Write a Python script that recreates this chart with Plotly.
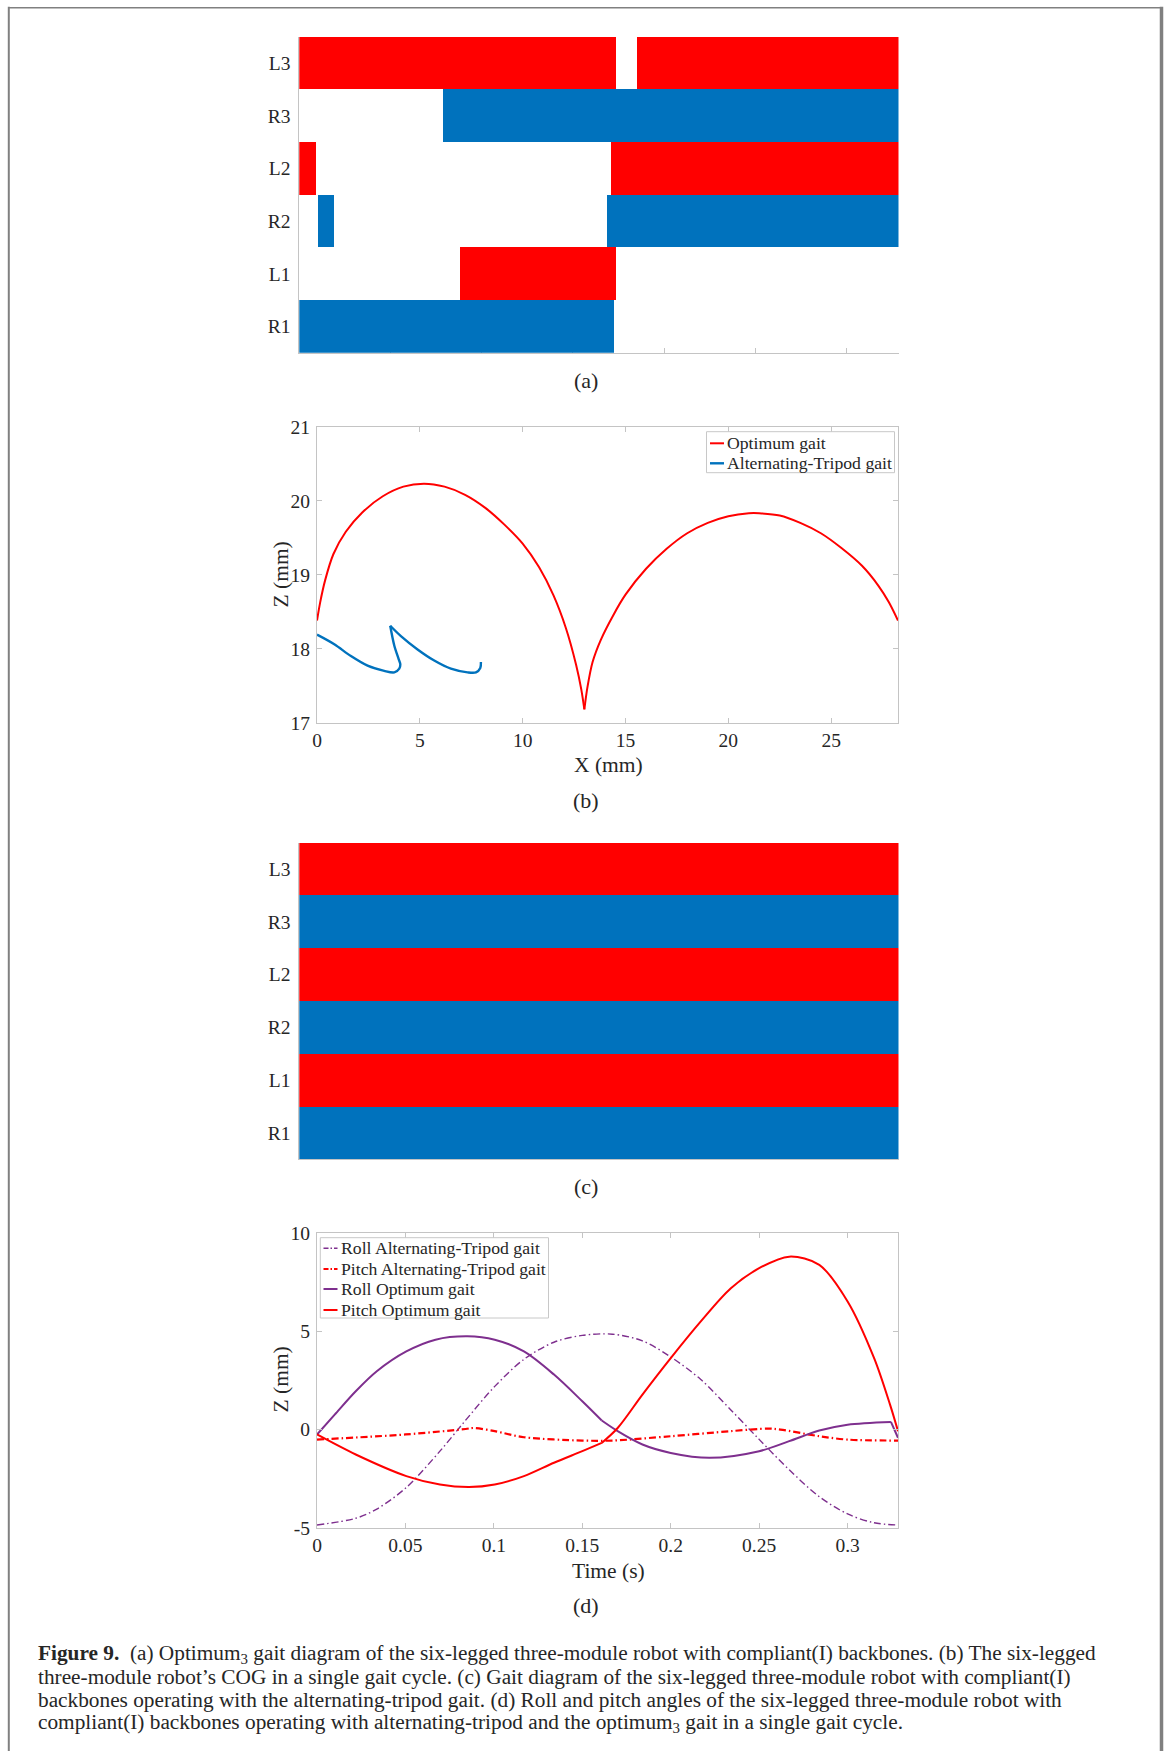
import plotly.graph_objects as go

W, H = 1167, 1751

# ---------------- data ----------------
T_CYCLE = 0.3285
legs = ["R1", "L1", "R2", "L2", "R3", "L3"]          # bottom -> top

# (a) optimum_3 gait diagram: stance intervals (s)
a_leg   = ["L3", "L3", "R3", "L2", "L2", "R2", "R2", "L1", "R1"]
a_start = [0.0, 0.1850, 0.0789, 0.0, 0.1707, 0.0101, 0.1689, 0.0881, 0.0]
a_end   = [0.1736, 0.3285, 0.3285, 0.0092, 0.3285, 0.0192, 0.3285, 0.1736, 0.1727]

# (c) alternating-tripod gait diagram
c_leg   = ["L3", "R3", "L2", "R2", "L1", "R1"]
c_start = [0.0, 0.0, 0.0, 0.0, 0.0, 0.0]
c_end   = [0.3285, 0.3285, 0.3285, 0.3285, 0.3285, 0.3285]

# (b) COG trajectory
opt_x = [0.0, 0.15, 0.4, 0.8, 1.4, 2.2, 3.2, 4.2, 5.2, 6.2, 7.2, 8.2, 9.1, 10.0,
         10.8, 11.5, 12.1, 12.6, 12.85, 13.0,
         13.15, 13.4, 13.8, 14.4, 15.0, 16.0, 17.0, 18.0, 19.0, 20.0, 21.0, 21.5,
         22.5, 23.5, 24.5, 25.5, 26.5, 27.3, 27.8, 28.25]
opt_z = [18.38, 18.62, 18.93, 19.28, 19.58, 19.84, 20.06, 20.19, 20.23, 20.19, 20.08, 19.90, 19.68, 19.42,
         19.10, 18.72, 18.28, 17.78, 17.45, 17.18,
         17.48, 17.82, 18.12, 18.45, 18.73, 19.08, 19.35, 19.56, 19.70, 19.79, 19.83, 19.83,
         19.80, 19.70, 19.56, 19.36, 19.12, 18.85, 18.63, 18.38]
opt_breaks = [19]

alt_x = [0.0, 0.84, 1.65, 2.46, 3.27, 3.76, 4.0, 4.05, 3.97, 3.76, 3.56,
         4.08, 4.89, 5.7, 6.51, 7.32, 7.73, 7.94, 7.97]
alt_z = [18.19, 18.06, 17.90, 17.77, 17.70, 17.68, 17.73, 17.79, 17.86, 18.04, 18.31,
         18.17, 17.99, 17.84, 17.73, 17.68, 17.68, 17.74, 17.82]
alt_breaks = [10]

# (d) roll / pitch angles
roll_alt_t = [0.0, 0.0219, 0.0338, 0.0505, 0.0695, 0.0838, 0.1005, 0.117, 0.134, 0.150, 0.167,
              0.184, 0.2, 0.217, 0.234, 0.25, 0.267, 0.284, 0.30, 0.315, 0.3285]
roll_alt_v = [-4.86, -4.52, -4.05, -2.95, -1.10, 0.45, 2.20, 3.58, 4.45, 4.80, 4.86,
              4.52, 3.70, 2.55, 1.00, -0.50, -2.05, -3.42, -4.30, -4.75, -4.86]

pitch_alt_t = [0.0, 0.05, 0.084, 0.0886, 0.1005, 0.117, 0.15, 0.167, 0.2, 0.234, 0.255, 0.262,
               0.284, 0.30, 0.3285]
pitch_alt_v = [-0.51, -0.25, 0.03, 0.08, -0.08, -0.39, -0.56, -0.56, -0.34, -0.08, 0.05, 0.0,
               -0.34, -0.51, -0.56]

roll_opt_t = [0.0, 0.01, 0.0219, 0.0338, 0.0505, 0.067, 0.085, 0.1005, 0.117, 0.134, 0.150, 0.161,
              0.170, 0.184, 0.2, 0.222, 0.25, 0.267, 0.284, 0.30, 0.3245, 0.3285]
roll_opt_v = [-0.25, 0.76, 1.95, 2.97, 3.98, 4.58, 4.75, 4.58, 3.98, 2.80, 1.44, 0.46,
              -0.08, -0.76, -1.19, -1.44, -1.10, -0.59, -0.05, 0.25, 0.39, -0.42]
roll_opt_breaks = [11, 20]

pitch_opt_t = [0.0, 0.0219, 0.0505, 0.0695, 0.086, 0.1005, 0.117, 0.134, 0.150, 0.161,
               0.170, 0.184, 0.2, 0.217, 0.234, 0.25, 0.267, 0.284, 0.30, 0.315, 0.324, 0.3285]
pitch_opt_v = [-0.25, -1.27, -2.37, -2.80, -2.93, -2.80, -2.37, -1.69, -1.10, -0.68,
               0.08, 1.78, 3.64, 5.51, 7.20, 8.22, 8.81, 8.39, 6.53, 3.64, 1.27, -0.08]
pitch_opt_breaks = [9]

b_xticks = [0, 5, 10, 15, 20, 25]
b_yticks = [17, 18, 19, 20, 21]
d_xticks = [0, 0.05, 0.1, 0.15, 0.2, 0.25, 0.3]
d_xtext = ["0", "0.05", "0.1", "0.15", "0.2", "0.25", "0.3"]
d_yticks = [-5, 0, 5, 10]
d_ytext = ["-5", "0", "5", "10"]

# ---------------- style ----------------
RED = "#FF0000"
BLUE = "#0072BD"
PURPLE = "#7E2F8E"
AX = "#c4c4c4"
TXT = "#262626"
FONT = "Liberation Serif"


def px(x):
    return x / W


def py(y):
    return 1 - y / H


fig = go.Figure()

# (a) bars
for lg, s, e in zip(a_leg, a_start, a_end):
    fig.add_trace(go.Bar(y=[lg], x=[e - s], base=[s], orientation="h", width=1.0,
                         marker=dict(color=RED if lg.startswith("L") else BLUE, line=dict(width=0)),
                         xaxis="x", yaxis="y", showlegend=False, hoverinfo="skip"))
# (c) bars
for lg, s, e in zip(c_leg, c_start, c_end):
    fig.add_trace(go.Bar(y=[lg], x=[e - s], base=[s], orientation="h", width=1.0,
                         marker=dict(color=RED if lg.startswith("L") else BLUE, line=dict(width=0)),
                         xaxis="x3", yaxis="y3", showlegend=False, hoverinfo="skip"))


def add_curve(xs, ys, breaks, xa, ya, color, width, dash="solid"):
    idx = [0] + breaks + [len(xs) - 1]
    for a, b in zip(idx[:-1], idx[1:]):
        fig.add_trace(go.Scatter(x=xs[a:b + 1], y=ys[a:b + 1], mode="lines",
                                 line=dict(color=color, width=width, dash=dash,
                                           shape="spline", smoothing=0.9),
                                 xaxis=xa, yaxis=ya, showlegend=False, hoverinfo="skip"))


add_curve(opt_x, opt_z, opt_breaks, "x2", "y2", RED, 2.0)
add_curve(alt_x, alt_z, alt_breaks, "x2", "y2", BLUE, 2.4)

DASHDOT = "7px,3px,1.5px,3px"
add_curve(roll_alt_t, roll_alt_v, [], "x4", "y4", PURPLE, 1.4, DASHDOT)
add_curve(pitch_alt_t, pitch_alt_v, [], "x4", "y4", RED, 2.2, DASHDOT)
add_curve(roll_opt_t, roll_opt_v, roll_opt_breaks, "x4", "y4", PURPLE, 2.0)
add_curve(pitch_opt_t, pitch_opt_v, pitch_opt_breaks, "x4", "y4", RED, 2.0)

common_ax = dict(showgrid=False, zeroline=False, linecolor=AX, linewidth=1, tickcolor=AX,
                 tickfont=dict(family=FONT, size=19.5, color=TXT), automargin=False)

gait_x = dict(common_ax, range=[0, T_CYCLE], tickvals=d_xticks, ticks="inside", ticklen=5,
              showticklabels=False, showline=True, mirror=False, layer="below traces")
gait_y = dict(common_ax, type="category", categoryorder="array", categoryarray=legs,
              range=[-0.5, 5.5], ticks="", showline=True, mirror=False, layer="below traces",
              ticklabelstandoff=4)

fig.update_layout(
    width=W, height=H, autosize=False,
    margin=dict(l=0, r=0, t=0, b=0, pad=0),
    paper_bgcolor="white", plot_bgcolor="white",
    barmode="overlay", bargap=0, showlegend=False,
    font=dict(family=FONT, color=TXT, size=19),
    xaxis=dict(gait_x, domain=[px(299.3), px(898.5)], anchor="y"),
    yaxis=dict(gait_y, domain=[py(352.7), py(36.7)], anchor="x"),
    xaxis3=dict(gait_x, domain=[px(299.3), px(898.5)], anchor="y3"),
    yaxis3=dict(gait_y, domain=[py(1159.3), py(842.7)], anchor="x3"),
    xaxis2=dict(common_ax, domain=[px(317), px(898)], anchor="y2", range=[0, 28.25],
                tickvals=b_xticks, ticks="inside", ticklen=5, showline=True, mirror="allticks",
                ticklabelstandoff=0),
    yaxis2=dict(common_ax, domain=[py(722.7), py(426.7)], anchor="x2", range=[17, 21],
                tickvals=b_yticks, ticks="inside", ticklen=5, showline=True, mirror="allticks",
                ticklabelstandoff=2),
    xaxis4=dict(common_ax, domain=[px(317), px(898)], anchor="y4", range=[0, T_CYCLE],
                tickvals=d_xticks, ticktext=d_xtext, ticks="inside", ticklen=5, showline=True,
                mirror="allticks", ticklabelstandoff=0),
    yaxis4=dict(common_ax, domain=[py(1527.7), py(1233.3)], anchor="x4", range=[-5, 10],
                tickvals=d_yticks, ticktext=d_ytext, ticks="inside", ticklen=5, showline=True,
                mirror="allticks", ticklabelstandoff=2),
)

ann = []
shapes = []


def text(x, y, s, size, xanchor="center", yanchor="middle", angle=0):
    ann.append(dict(x=px(x), y=py(y), xref="paper", yref="paper", text=s, showarrow=False,
                    xanchor=xanchor, yanchor=yanchor, textangle=angle,
                    font=dict(family=FONT, size=size, color=TXT)))


# sub-captions
for lab, yy in [("(a)", 380), ("(b)", 800), ("(c)", 1186), ("(d)", 1605)]:
    text(586, yy, lab, 22)

# axis titles
text(608, 765, "X (mm)", 21.5)
text(280.5, 575, "Z (mm)", 21.5, angle=-90)
text(608, 1571, "Time (s)", 21.5)
text(280.5, 1380, "Z (mm)", 21.5, angle=-90)


def legend_box(x0, y0, x1, y1):
    shapes.append(dict(type="rect", xref="paper", yref="paper", x0=px(x0), x1=px(x1),
                       y0=py(y1), y1=py(y0), line=dict(color="#c8c8c8", width=1),
                       fillcolor="white", layer="above"))


def legend_item(x, y, label, color, width, dash="solid"):
    shapes.append(dict(type="line", xref="paper", yref="paper", x0=px(x), x1=px(x + 14),
                       y0=py(y), y1=py(y), line=dict(color=color, width=width, dash=dash),
                       layer="above"))
    text(x + 15, y, label, 17.7, xanchor="left")


legend_box(706.5, 431.7, 894.5, 472.7)
legend_item(710, 443.3, "Optimum gait", RED, 2.0)
legend_item(710, 463.3, "Alternating-Tripod gait", BLUE, 2.4)

legend_box(320.3, 1237.7, 548.5, 1318)
legend_item(323.5, 1248.3, "Roll Alternating-Tripod gait", PURPLE, 1.4, "5px,2px,1.5px,2px")
legend_item(323.5, 1269, "Pitch Alternating-Tripod gait", RED, 2.2, "5px,2px,1.5px,2px")
legend_item(323.5, 1289, "Roll Optimum gait", PURPLE, 2.0)
legend_item(323.5, 1310, "Pitch Optimum gait", RED, 2.0)

# figure caption
cap = [
    "<b>Figure 9.</b>  (a) Optimum<sub>3</sub> gait diagram of the six-legged three-module robot with compliant(I) backbones. (b) The six-legged",
    "three-module robot’s COG in a single gait cycle. (c) Gait diagram of the six-legged three-module robot with compliant(I)",
    "backbones operating with the alternating-tripod gait. (d) Roll and pitch angles of the six-legged three-module robot with",
    "compliant(I) backbones operating with alternating-tripod and the optimum<sub>3</sub> gait in a single gait cycle.",
]
for i, line in enumerate(cap):
    text(36, 1654 + i * 23, line, 21.3, xanchor="left")

# outer frame (open at the bottom)
FR = "#808080"
shapes.append(dict(type="line", xref="paper", yref="paper", x0=px(8.8), x1=px(8.8),
                   y0=0, y1=py(6.8), line=dict(color=FR, width=2)))
shapes.append(dict(type="line", xref="paper", yref="paper", x0=px(8), x1=px(1163),
                   y0=py(7.8), y1=py(7.8), line=dict(color=FR, width=1.5)))
shapes.append(dict(type="line", xref="paper", yref="paper", x0=px(1161.5), x1=px(1161.5),
                   y0=0, y1=py(6.8), line=dict(color=FR, width=3.5)))

fig.update_layout(annotations=ann, shapes=shapes)
fig.write_html("out.html", config={"displayModeBar": False, "staticPlot": True},
               post_script="document.body.style.margin='0px';document.body.style.overflow='hidden';")
